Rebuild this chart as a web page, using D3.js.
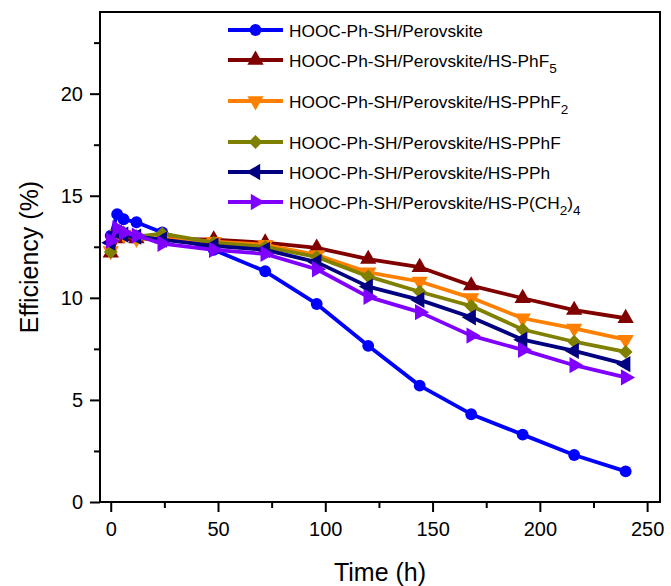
<!DOCTYPE html>
<html>
<head>
<meta charset="utf-8">
<script src="https://cdn.jsdelivr.net/npm/d3@7"></script>
<style>
  body { margin: 0; background: #fff; }
  text { font-family: "Liberation Sans", Arial, sans-serif; fill: #000; }
</style>
</head>
<body>
<div id="wrapper"></div>
<script>
// time points (h)
const times = [0, 3, 6, 12, 24, 48, 72, 96, 120, 144, 168, 192, 216, 240];

// efficiency (%) per device
const effRef   = [13.05, 14.1, 13.85, 13.7, 13.2, 12.35, 11.3, 9.7, 7.65, 5.7, 4.3, 3.3, 2.3, 1.5];
const effPhF5  = [12.2, 12.9, 13.0, 12.9, 12.9, 12.85, 12.7, 12.45, 11.9, 11.5, 10.6, 9.98, 9.4, 9.0];
const effPPhF2 = [12.3, 13.1, 13.1, 12.9, 12.9, 12.75, 12.6, 12.1, 11.25, 10.8, 10.0, 9.0, 8.5, 7.95];
const effPPhF  = [12.25, 13.2, 13.2, 13.0, 13.15, 12.7, 12.5, 12.0, 11.05, 10.3, 9.6, 8.45, 7.85, 7.35];
const effPPh   = [12.7, 13.2, 13.1, 13.0, 12.85, 12.55, 12.35, 11.75, 10.55, 9.9, 9.05, 7.95, 7.4, 6.75];
const effPCH24 = [12.8, 13.4, 13.2, 13.05, 12.65, 12.35, 12.15, 11.4, 10.05, 9.3, 8.15, 7.45, 6.7, 6.1];

const xTicks = [0, 50, 100, 150, 200, 250];
const yTicks = [0, 5, 10, 15, 20];

// legend labels: [text, subscript?]
const labels = [
  [["HOOC-Ph-SH/Perovskite", false]],
  [["HOOC-Ph-SH/Perovskite/HS-PhF", false], ["5", true]],
  [["HOOC-Ph-SH/Perovskite/HS-PPhF", false], ["2", true]],
  [["HOOC-Ph-SH/Perovskite/HS-PPhF", false]],
  [["HOOC-Ph-SH/Perovskite/HS-PPh", false]],
  [["HOOC-Ph-SH/Perovskite/HS-P(CH", false], ["2", true], [")", false], ["4", true]]
];
const colors = ["#0000ff", "#800000", "#ff8000", "#808000", "#000080", "#8000ff"];
const shapes = ["circle", "up", "down", "diamond", "left", "right"];
const seriesValues = [effRef, effPhF5, effPPhF2, effPPhF, effPPh, effPCH24];

const series = seriesValues.map((vals, i) => ({
  color: colors[i], shape: shapes[i], label: labels[i],
  points: vals.map((v, j) => ({t: times[j], v: v}))
}));

const width = 671, height = 586;
const margin = {top: 12, right: 11, bottom: 84, left: 100};

const svg = d3.select("#wrapper").append("svg")
  .attr("width", width)
  .attr("height", height);

const x = d3.scaleLinear().domain([-5, 256]).range([margin.left, width - margin.right]);
const y = d3.scaleLinear().domain([0, 24]).range([height - margin.bottom, margin.top]);

// minor ticks
svg.append("g")
  .attr("transform", `translate(0,${y(0)})`)
  .call(d3.axisBottom(x).tickValues(d3.range(25, 256, 50)).tickSize(6).tickFormat(""))
  .call(g => g.select(".domain").remove())
  .selectAll("line").attr("stroke-width", 2);
svg.append("g")
  .attr("transform", `translate(${x(-5)},0)`)
  .call(d3.axisLeft(y).tickValues(d3.range(2.5, 24, 5)).tickSize(6).tickFormat(""))
  .call(g => g.select(".domain").remove())
  .selectAll("line").attr("stroke-width", 2);

// major ticks
const xAxis = svg.append("g")
  .attr("transform", `translate(0,${y(0)})`)
  .call(d3.axisBottom(x).tickValues(xTicks).tickSize(10).tickPadding(10))
  .call(g => g.select(".domain").remove());
xAxis.selectAll("line").attr("stroke-width", 2);
xAxis.selectAll("text").style("font-size", "20px").style("font-family", "Liberation Sans, Arial, sans-serif");

const yAxis = svg.append("g")
  .attr("transform", `translate(${x(-5)},0)`)
  .call(d3.axisLeft(y).tickValues(yTicks).tickSize(10).tickPadding(7))
  .call(g => g.select(".domain").remove());
yAxis.selectAll("line").attr("stroke-width", 2);
yAxis.selectAll("text").style("font-size", "20px").style("font-family", "Liberation Sans, Arial, sans-serif");

// frame
svg.append("rect")
  .attr("x", x(-5)).attr("y", y(24))
  .attr("width", x(256) - x(-5)).attr("height", y(0) - y(24))
  .attr("fill", "none").attr("stroke", "#000").attr("stroke-width", 2);

function symbolPath(shape) {
  if (shape === "circle") return d3.symbol(d3.symbolCircle, 110)();
  if (shape === "diamond") return d3.symbol(d3.symbolSquare, 95)();
  return d3.symbol(d3.symbolTriangle, 115)();
}
function symbolRot(shape) {
  return {circle: 0, up: 0, down: 180, diamond: 45, left: -90, right: 90}[shape];
}

const line = d3.line().x(d => x(d.t)).y(d => y(d.v));

const plot = svg.append("g");
series.forEach(s => {
  const g = plot.append("g");
  g.append("path")
    .datum(s.points)
    .attr("d", line)
    .attr("fill", "none")
    .attr("stroke", s.color)
    .attr("stroke-width", 3.8)
    .attr("stroke-linejoin", "round");
  g.selectAll("path.mark")
    .data(s.points)
    .enter()
    .append("path")
    .attr("class", "mark")
    .attr("d", symbolPath(s.shape))
    .attr("transform", d => `translate(${x(d.t)},${y(d.v)}) rotate(${symbolRot(s.shape)})`)
    .attr("fill", s.color);
});

// legend
const legendY = [30, 60, 101, 142, 172, 202];
const legend = svg.append("g");
series.forEach((s, i) => {
  const g = legend.append("g").attr("transform", `translate(228,${legendY[i]})`);
  g.append("line")
    .attr("x1", 0).attr("x2", 55)
    .attr("stroke", s.color).attr("stroke-width", 4);
  g.append("path")
    .attr("d", symbolPath(s.shape))
    .attr("transform", `translate(27.5,0) rotate(${symbolRot(s.shape)})`)
    .attr("fill", s.color);
  const t = g.append("text")
    .attr("x", 61).attr("y", 6.5)
    .style("font-size", "17.3px");
  s.label.forEach(part => {
    const ts = t.append("tspan").text(part[0]);
    if (part[1]) ts.attr("dy", 6).style("font-size", "13.5px");
    else if (t.selectAll("tspan").size() > 1) ts.attr("dy", -6);
  });
});

// axis titles
svg.append("text")
  .attr("x", (x(-5) + x(256)) / 2)
  .attr("y", 581)
  .attr("text-anchor", "middle")
  .style("font-size", "25px")
  .text("Time (h)");

svg.append("text")
  .attr("transform", `translate(38,${(y(0) + y(24)) / 2}) rotate(-90)`)
  .attr("text-anchor", "middle")
  .style("font-size", "25px")
  .text("Efficiency (%)");
</script>
</body>
</html>
